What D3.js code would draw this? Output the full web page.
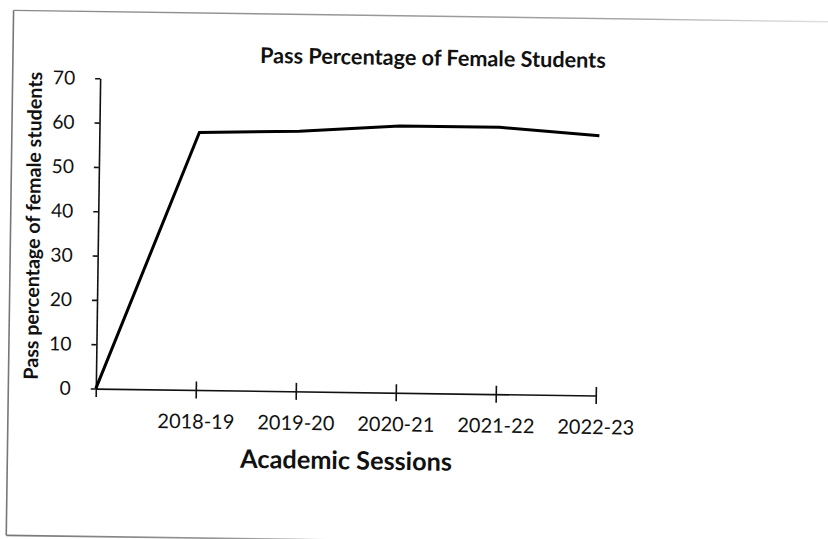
<!DOCTYPE html>
<html><head><meta charset="utf-8">
<script src="https://cdn.jsdelivr.net/npm/d3@7"></script>
<style>body{margin:0;background:#fff}</style></head><body>
<svg id="c" width="828" height="539"></svg>
<script>
const categories = ["", "2018-19", "2019-20", "2020-21", "2021-22", "2022-23"];
const passValues = [0, 58.1, 58.7, 60.2, 60.2, 58.6];
const yTicks = [0, 10, 20, 30, 40, 50, 60, 70];
const titleText = "Pass Percentage of Female Students";
const xTitleText = "Academic Sessions";
const yTitleText = "Pass percentage of female students";

const FONT = "Lato, 'Open Sans', sans-serif";
const INK = "#111";
const svg = d3.select("#c");
svg.append("rect").attr("width", 828).attr("height", 539).attr("fill", "#fff");

const defs = svg.append("defs");
const gb = defs.append("linearGradient").attr("id", "fadeB").attr("gradientUnits", "userSpaceOnUse")
  .attr("x1", 10).attr("x2", 480).attr("y1", 0).attr("y2", 0);
gb.append("stop").attr("offset", 0).attr("stop-color", "#777").attr("stop-opacity", 1);
gb.append("stop").attr("offset", 0.6).attr("stop-color", "#888").attr("stop-opacity", 0.8);
gb.append("stop").attr("offset", 1).attr("stop-color", "#aaa").attr("stop-opacity", 0);
const gt = defs.append("linearGradient").attr("id", "fadeT").attr("gradientUnits", "userSpaceOnUse")
  .attr("x1", 10).attr("x2", 840).attr("y1", 0).attr("y2", 0);
gt.append("stop").attr("offset", 0).attr("stop-color", "#888").attr("stop-opacity", 1);
gt.append("stop").attr("offset", 0.75).attr("stop-color", "#999").attr("stop-opacity", 0.9);
gt.append("stop").attr("offset", 1).attr("stop-color", "#bbb").attr("stop-opacity", 0.4);

const g = svg.append("g").attr("transform", "rotate(0.8,414,270)");

// frame
g.append("line").attr("x1", 10).attr("x2", 10).attr("y1", 16).attr("y2", 541)
  .attr("stroke", "#777").attr("stroke-width", 1.6);
g.append("line").attr("x1", 10).attr("x2", 845).attr("y1", 16).attr("y2", 16)
  .attr("stroke", "url(#fadeT)").attr("stroke-width", 1.4);
g.append("line").attr("x1", 10).attr("x2", 480).attr("y1", 541).attr("y2", 541)
  .attr("stroke", "url(#fadeB)").attr("stroke-width", 1.6);

const x = d3.scalePoint().domain(categories).range([97.5, 597.5]);
const y = d3.scaleLinear().domain([0, 70]).range([393, 82.7]);

function fit(sel, target) {
  const w = sel.node().getComputedTextLength();
  const fs = parseFloat(sel.attr("font-size"));
  sel.attr("font-size", fs * target / w);
  return fs * target / w;
}

// y axis
const yAxis = g.append("g").attr("transform", `translate(${x.range()[0]},0)`)
  .call(d3.axisLeft(y).tickValues(yTicks).tickSize(5).tickSizeOuter(0).tickPadding(20));
yAxis.select(".domain").attr("stroke", INK).attr("stroke-width", 1.6);
yAxis.selectAll(".tick line").attr("stroke", INK).attr("stroke-width", 1.6);
yAxis.selectAll(".tick text").attr("font-family", FONT).attr("font-size", 20).attr("fill", INK);
const ySize = fit(yAxis.selectAll(".tick text").filter(d => d === 70), 22.3);
yAxis.selectAll(".tick text").attr("font-size", ySize);

// x axis
const xAxis = g.append("g").attr("transform", `translate(0,${y(0)})`)
  .call(d3.axisBottom(x).tickSize(0).tickSizeOuter(0).tickPadding(0));
xAxis.select(".domain").attr("stroke", INK).attr("stroke-width", 1.6);
xAxis.selectAll(".tick text").attr("font-family", FONT).attr("font-size", 20).attr("fill", INK)
  .attr("y", 38.5).attr("dy", 0);
const xSize = fit(xAxis.selectAll(".tick text").filter(d => d === "2018-19"), 77);
xAxis.selectAll(".tick text").attr("font-size", xSize);
xAxis.selectAll(".tick").append("line").attr("y1", d => d === "" ? 0 : -8.5).attr("y2", 8.5)
  .attr("stroke", INK).attr("stroke-width", 1.6);

// line
const line = d3.line().x((d, i) => x(categories[i])).y(d => y(d));
g.append("path").datum(passValues).attr("d", line).attr("fill", "none")
  .attr("stroke", "#000").attr("stroke-width", 3).attr("stroke-linejoin", "miter");

// titles
const t = g.append("text").attr("x", 430).attr("y", 65.2).attr("text-anchor", "middle")
  .attr("font-family", FONT).attr("font-weight", "bold").attr("font-size", 19).attr("fill", INK).text(titleText);
fit(t, 346);
const xt = g.append("text").attr("x", 348.8).attr("y", 470.2).attr("text-anchor", "middle")
  .attr("font-family", FONT).attr("font-weight", "bold").attr("font-size", 22).attr("fill", INK).text(xTitleText);
fit(xt, 212);
const yt = g.append("text").attr("transform", "translate(39.4,231) rotate(-90)").attr("text-anchor", "middle")
  .attr("font-family", FONT).attr("font-weight", "bold").attr("font-size", 17).attr("fill", INK).text(yTitleText);
fit(yt, 308);
</script></body></html>
